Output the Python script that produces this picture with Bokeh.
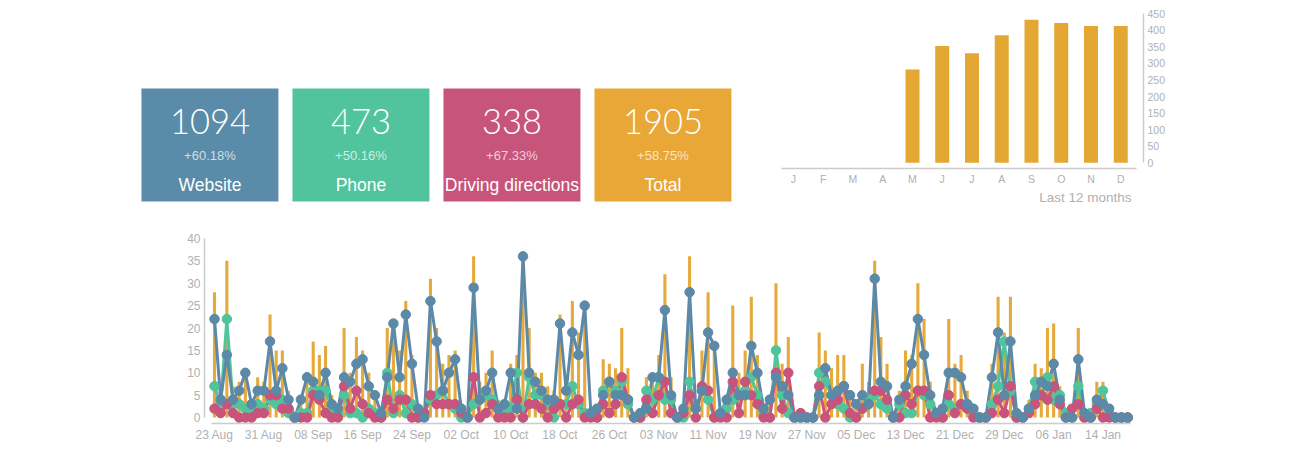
from bokeh.plotting import figure
from bokeh.models import ColumnDataSource, FixedTicker, Range1d, Title
from bokeh.layouts import column, row
from bokeh.embed import file_html
from bokeh.resources import INLINE
from bokeh.core.properties import value

# ---------------- data ----------------
kpi_values = ["1094", "473", "338", "1905"]
kpi_changes = ["+60.18%", "+50.16%", "+67.33%", "+58.75%"]
kpi_labels = ["Website", "Phone", "Driving directions", "Total"]
kpi_colors = ["#5A8BA8", "#52C49D", "#C7557B", "#E8A737"]

months = ["J", "F", "M", "A", "M", "J", "J", "A", "S", "O", "N", "D"]
month_totals = [0, 0, 0, 0, 282, 353, 331, 385, 432, 422, 413, 413]

date_labels = ["23 Aug", "31 Aug", "08 Sep", "16 Sep", "24 Sep", "02 Oct", "10 Oct",
               "18 Oct", "26 Oct", "03 Nov", "11 Nov", "19 Nov", "27 Nov", "05 Dec",
               "13 Dec", "21 Dec", "29 Dec", "06 Jan", "14 Jan"]

website = [22, 4, 14, 4, 6, 10, 3, 6, 6, 17, 6, 11, 4, 0, 4, 9, 8, 5, 10, 3,
           2, 9, 8, 12, 13, 7, 5, 1, 9, 21, 9, 23, 12, 2, 0, 26, 17, 6, 10, 13,
           2, 0, 29, 4, 6, 10, 2, 3, 10, 2, 36, 10, 8, 6, 4, 4, 21, 6, 19, 14,
           25, 1, 2, 5, 8, 5, 5, 4, 0, 1, 2, 9, 9, 24, 5, 0, 2, 28, 2, 6,
           19, 16, 1, 4, 10, 5, 5, 16, 10, 2, 4, 9, 7, 5, 0, 0, 0, 0, 5, 11,
           5, 6, 7, 5, 3, 5, 3, 31, 8, 7, 0, 4, 7, 12, 22, 14, 5, 1, 2, 10,
           10, 9, 3, 2, 0, 0, 9, 19, 5, 17, 1, 0, 2, 5, 8, 7, 12, 4, 0, 0,
           13, 1, 0, 4, 3, 2, 0, 0, 0]
phone = [7, 3, 22, 3, 3, 2, 1, 3, 2, 4, 3, 4, 1, 0, 1, 1, 6, 6, 6, 2,
         1, 5, 1, 1, 0, 2, 1, 0, 10, 1, 5, 1, 3, 0, 1, 4, 5, 6, 3, 2,
         0, 0, 3, 4, 5, 4, 2, 1, 2, 10, 0, 9, 5, 5, 3, 0, 3, 3, 7, 3,
         1, 1, 0, 6, 8, 6, 8, 3, 0, 0, 6, 4, 9, 4, 4, 0, 0, 8, 2, 6,
         4, 0, 1, 2, 4, 5, 6, 9, 5, 1, 0, 15, 5, 1, 0, 0, 0, 0, 10, 8,
         5, 3, 2, 0, 0, 2, 4, 5, 3, 2, 0, 3, 1, 1, 6, 5, 3, 1, 0, 3,
         2, 3, 3, 1, 0, 0, 3, 7, 17, 6, 0, 0, 2, 8, 5, 9, 4, 5, 1, 0,
         7, 0, 1, 3, 6, 1, 0, 0, 0]
driving = [2, 1, 3, 1, 0, 0, 0, 1, 1, 5, 5, 2, 2, 0, 0, 0, 5, 4, 1, 0,
           0, 7, 2, 6, 3, 1, 0, 0, 4, 2, 4, 4, 0, 0, 1, 5, 3, 3, 3, 3,
           1, 0, 9, 0, 1, 3, 0, 0, 0, 4, 0, 3, 3, 2, 0, 2, 3, 0, 3, 4,
           0, 0, 0, 3, 1, 3, 9, 4, 0, 0, 4, 1, 5, 8, 1, 0, 1, 5, 0, 7,
           6, 0, 0, 0, 8, 1, 8, 5, 3, 0, 0, 10, 2, 10, 0, 1, 0, 0, 7, 0,
           3, 4, 7, 1, 0, 2, 3, 6, 6, 4, 0, 0, 5, 3, 6, 6, 0, 0, 0, 5,
           1, 3, 2, 0, 0, 0, 1, 4, 1, 7, 0, 0, 1, 3, 5, 4, 7, 3, 0, 2,
           3, 0, 0, 2, 0, 0, 0, 0, 0]
total = [28, 6, 35, 7, 8, 11, 4, 9, 8, 23, 15, 15, 6, 0, 5, 10, 17, 14, 16, 5,
         3, 20, 10, 18, 15, 10, 6, 1, 20, 22, 15, 26, 14, 2, 2, 31, 20, 12, 14, 15,
         3, 0, 36, 8, 10, 15, 4, 4, 12, 14, 36, 20, 10, 10, 7, 6, 23, 9, 26, 19,
         25, 2, 2, 13, 12, 11, 20, 11, 0, 1, 9, 10, 14, 32, 9, 0, 3, 36, 4, 15,
         28, 16, 2, 5, 25, 10, 15, 27, 14, 3, 4, 30, 12, 18, 0, 1, 0, 0, 19, 15,
         11, 14, 14, 6, 3, 12, 8, 35, 18, 12, 0, 6, 15, 14, 30, 22, 8, 2, 2, 22,
         12, 14, 6, 3, 0, 0, 12, 27, 19, 27, 1, 0, 4, 12, 11, 20, 21, 7, 1, 2,
         20, 1, 1, 8, 8, 3, 0, 0, 0]

BLUE = "#5B89A7"
GREEN = "#50C49B"
RED = "#C8537C"
ORANGE = "#E6AA3C"
AXIS = "#cccccc"
LABEL = "#b0b0b0"
FONT = "Liberation Sans"

# ---------------- KPI tiles (frame: page x 8..760, page y 0..225) ----------------
kp = figure(width=760, height=225, x_range=Range1d(-1.334, 3.646), y_range=Range1d(225, 0),
            toolbar_location=None, output_backend="svg",
            min_border_left=8, min_border_right=0, min_border_top=0, min_border_bottom=0)
kp.frame_align = False
kp.axis.visible = False
kp.grid.visible = False
kp.outline_line_color = None
ksrc = ColumnDataSource(dict(x=list(range(len(kpi_values))), v=kpi_values, c=kpi_changes,
                             l=kpi_labels, col=kpi_colors))
kp.rect(x="x", y=144.5, width=0.907, height=113, fill_color="col", line_color=None, source=ksrc)
kp.text(x="x", y=121, text="v", text_align="center", text_baseline="middle",
        text_font=value("Lato Light, Lato"), text_font_size="34.5px", text_color="white", source=ksrc)
kp.text(x="x", y=155, text="c", text_align="center", text_baseline="middle",
        text_font=value(FONT), text_font_size="13px", text_color="white", text_alpha=0.72,
        source=ksrc)
kp.text(x="x", y=184, text="l", text_align="center", text_baseline="middle",
        text_font=value(FONT), text_font_size="17.5px", text_color="white", source=ksrc)

# ---------------- monthly bar chart ----------------
pb = figure(width=423, height=225, x_range=Range1d(-0.403, 11.765), y_range=Range1d(-17.2, 453.9),
            y_axis_location="right", toolbar_location=None, output_backend="svg",
            min_border_left=21, min_border_right=40, min_border_top=12, min_border_bottom=57)
pb.frame_align = False
bsrc = ColumnDataSource(dict(x=list(range(len(months))), top=month_totals))
pb.vbar(x="x", top="top", bottom=0, width=0.47, fill_color="#E4A734", line_color=None, source=bsrc)
pb.grid.visible = False
pb.outline_line_color = None
pb.xaxis.ticker = FixedTicker(ticks=list(range(len(months))))
pb.xaxis.major_label_overrides = {i: m for i, m in enumerate(months)}
pb.xaxis.bounds = (-0.403, 11.53)
pb.yaxis.ticker = FixedTicker(ticks=list(range(0, 451, 50)))
pb.yaxis.bounds = (0, 450)
for ax in (pb.xaxis[0], pb.yaxis[0]):
    ax.axis_line_color = AXIS
    ax.axis_line_width = 1.5
    ax.major_tick_line_color = None
    ax.major_tick_out = 0
    ax.major_tick_in = 0
    ax.minor_tick_line_color = None
    ax.minor_tick_out = 0
    ax.major_label_text_color = LABEL
    ax.major_label_text_font = FONT
    ax.major_label_text_font_size = "10.5px"
pb.xaxis.major_label_standoff = 4
pb.yaxis.major_label_standoff = 4
pb.add_layout(Title(text="Last 12 months", align="right", text_font_size="13.5px",
                    text_color=LABEL, text_font_style="normal", text_font=FONT,
                    standoff=0, offset=12), "below")

# ---------------- daily chart ----------------
days = list(range(len(website)))
src = ColumnDataSource(dict(d=days, w=website, p=phone, r=driving, t=total))
pm = figure(width=1160, height=219, x_range=Range1d(-1.62, 149.27), y_range=Range1d(-1.32, 41.32),
            toolbar_location=None, output_backend="svg",
            min_border_left=204, min_border_right=25, min_border_top=7, min_border_bottom=18)
pm.frame_align = False
pm.grid.visible = False
pm.outline_line_color = None
pm.vbar(x="d", top="t", bottom=0, width=0.5, fill_color=ORANGE, line_color=None, source=src)
for col, c in (("p", GREEN), ("r", RED), ("w", BLUE)):
    pm.line(x="d", y=col, line_color=c, line_width=3, source=src)
for col, c in (("p", GREEN), ("r", RED), ("w", BLUE)):
    pm.scatter(x="d", y=col, size=9.5, fill_color=c, line_color=c, source=src)
pm.xaxis.ticker = FixedTicker(ticks=[8 * i for i in range(len(date_labels))])
pm.xaxis.major_label_overrides = {8 * i: s for i, s in enumerate(date_labels)}
pm.xaxis.bounds = (-0.5, 148.5)
pm.yaxis.ticker = FixedTicker(ticks=list(range(0, 41, 5)))
pm.yaxis.bounds = (0, 40)
for ax in (pm.xaxis[0], pm.yaxis[0]):
    ax.axis_line_color = AXIS
    ax.axis_line_width = 1.5
    ax.major_tick_line_color = None
    ax.major_tick_out = 0
    ax.major_tick_in = 0
    ax.minor_tick_line_color = None
    ax.minor_tick_out = 0
    ax.major_label_text_color = LABEL
    ax.major_label_text_font = FONT
    ax.major_label_text_font_size = "12px"
pm.xaxis.major_label_standoff = 4
pm.yaxis.major_label_standoff = 4

layout = column(row(kp, pb), pm)
open("out.html", "w").write(file_html(layout, INLINE))
